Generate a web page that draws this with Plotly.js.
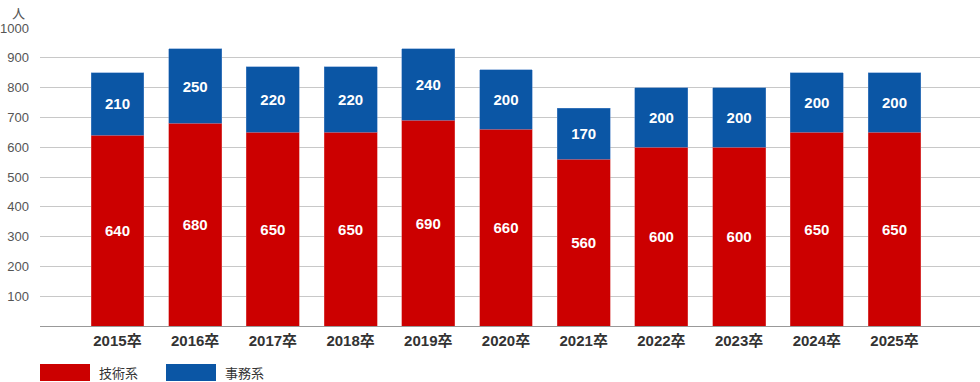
<!DOCTYPE html>
<html><head><meta charset="utf-8">
<script src="https://cdn.plot.ly/plotly-3.0.1.min.js"></script>
<style>body{margin:0;background:#fff}#c{width:980px;height:382px}</style>
</head><body><div id="c"></div>
<script>
const categories = ["2015卒","2016卒","2017卒","2018卒","2019卒","2020卒","2021卒","2022卒","2023卒","2024卒","2025卒"];
const technical = [640,680,650,650,690,660,560,600,600,650,650];
const office = [210,250,220,220,240,200,170,200,200,200,200];
const yTicks = [100,200,300,400,500,600,700,800,900,1000];
const seriesNames = ["技術系","事務系"];
const RED = "#cc0000", BLUE = "#0b56a5";
const labelFont = {family:"Liberation Sans, Arial, sans-serif", size:15, color:"#fff", weight:"bold"};
const traces = [
  {type:"bar", x:categories, y:technical, name:seriesNames[0], marker:{color:RED, line:{color:"#e06060", width:0.5}},
   text:technical.map(String), textposition:"inside", insidetextanchor:"middle", textfont:labelFont, width:0.68, hoverinfo:"none"},
  {type:"bar", x:categories, y:office, name:seriesNames[1], marker:{color:BLUE, line:{color:"#5a8ccc", width:0.5}},
   text:office.map(String), textposition:"inside", insidetextanchor:"middle", textfont:labelFont, width:0.68, hoverinfo:"none"}
];
const layout = {
  width:980, height:382, barmode:"stack", showlegend:false,
  margin:{l:40, r:0, t:28, b:56},
  paper_bgcolor:"#fff", plot_bgcolor:"#fff",
  font:{family:"Liberation Sans, Arial, sans-serif"},
  xaxis:{type:"category", range:[-0.997, 11.1], showgrid:false, ticks:"", showline:false,
    tickfont:{size:15, color:"#333", weight:"bold", family:"Liberation Sans, Noto Sans CJK JP, sans-serif"}, ticklabelstandoff:4},
  yaxis:{range:[0,1000], tickvals:yTicks, showgrid:true, gridcolor:"#c8c8c8", gridwidth:1,
    zeroline:true, zerolinecolor:"#999", zerolinewidth:1, showline:false, automargin:false,
    tickfont:{size:13, color:"#555"}, ticklabelstandoff:10},
  shapes:[
    {type:"rect", xref:"paper", yref:"paper", x0:0/940, x1:50/940, y0:(326-364)/298, y1:(326-381)/298, fillcolor:RED, line:{width:0}},
    {type:"rect", xref:"paper", yref:"paper", x0:126/940, x1:176/940, y0:(326-364)/298, y1:(326-381)/298, fillcolor:BLUE, line:{width:0}}
  ],
  annotations:[
    {text:"人", xref:"paper", yref:"paper", x:-22/940, y:(326-12)/298, showarrow:false, xanchor:"center", yanchor:"middle",
      font:{size:13, color:"#555", family:"Noto Sans CJK JP, sans-serif"}},
    {text:seriesNames[0], xref:"paper", yref:"paper", x:57/940, y:(326-372)/298, showarrow:false, xanchor:"left", yanchor:"middle",
      font:{size:13, color:"#333", family:"Noto Sans CJK JP, sans-serif"}},
    {text:seriesNames[1], xref:"paper", yref:"paper", x:183/940, y:(326-372)/298, showarrow:false, xanchor:"left", yanchor:"middle",
      font:{size:13, color:"#333", family:"Noto Sans CJK JP, sans-serif"}}
  ]
};
Plotly.newPlot("c", traces, layout, {displayModeBar:false, staticPlot:true});
</script></body></html>
